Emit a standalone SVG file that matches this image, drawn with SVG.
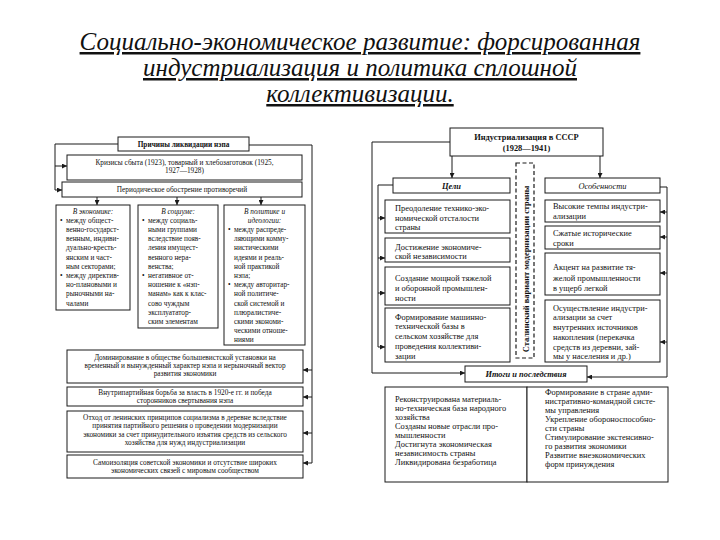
<svg xmlns="http://www.w3.org/2000/svg" width="720" height="540" viewBox="0 0 720 540">
<style>
.title{font-family:"Liberation Serif",serif;font-style:italic;font-size:25px;fill:#111;text-decoration:underline;text-anchor:middle}
.box{fill:#fff;stroke:#1a1a1a;stroke-width:1}
.t{font-family:"Liberation Serif",serif;font-size:7.3px;fill:#111}
.c{text-anchor:middle}
.i{font-style:italic}
.b{font-weight:bold}
.r{font-family:"Liberation Serif",serif;font-size:8.4px;fill:#111}
.ln{fill:none;stroke:#1a1a1a;stroke-width:1}
.dash{fill:none;stroke:#1a1a1a;stroke-width:1.2;stroke-dasharray:4 2.5}
</style>
<defs>
<marker id="ah" markerUnits="userSpaceOnUse" markerWidth="5" markerHeight="5" refX="5" refY="2.5" orient="auto">
<path d="M0,0 L5,2.5 L0,5 Z" fill="#1a1a1a"/>
</marker>
</defs>
<rect width="720" height="540" fill="#fff"/>

<g id="title">
<text class="title" x="360" y="50">Социально-экономическое развитие: форсированная</text>
<text class="title" x="360" y="76">индустриализация и политика сплошной</text>
<text class="title" x="360" y="102">коллективизации.</text>
</g>

<g id="connectors">
<!-- left panel -->
<path class="ln" d="M118,144 H55 V190 H62" marker-end="url(#ah)"/>
<path class="ln" d="M55,166 H67" marker-end="url(#ah)"/>
<path class="ln" d="M249,145 H312 V463"/>
<path class="ln" d="M312,370 H303" marker-end="url(#ah)"/>
<path class="ln" d="M312,397 H303" marker-end="url(#ah)"/>
<path class="ln" d="M312,433 H303" marker-end="url(#ah)"/>
<path class="ln" d="M312,463 H303" marker-end="url(#ah)"/>
<path class="ln" d="M97,197 V205" marker-end="url(#ah)"/>
<path class="ln" d="M177,197 V205" marker-end="url(#ah)"/>
<path class="ln" d="M261,197 V205" marker-end="url(#ah)"/>
<!-- right panel -->
<path class="ln" d="M450,142 H372 V373 H465" marker-end="url(#ah)"/>
<path class="ln" d="M452,156 V178" marker-end="url(#ah)"/>
<path class="ln" d="M600,156 V178" marker-end="url(#ah)"/>
<path class="ln" d="M393,185 H378 V347"/>
<path class="ln" d="M378,218 H385" marker-end="url(#ah)"/>
<path class="ln" d="M378,258 H385" marker-end="url(#ah)"/>
<path class="ln" d="M378,293 H385" marker-end="url(#ah)"/>
<path class="ln" d="M378,347 H385" marker-end="url(#ah)"/>
<path class="ln" d="M660,187 H667 V377 H587" marker-end="url(#ah)"/>
<path class="ln" d="M667,212 H660" marker-end="url(#ah)"/>
<path class="ln" d="M667,237 H660" marker-end="url(#ah)"/>
<path class="ln" d="M667,273 H660" marker-end="url(#ah)"/>
<path class="ln" d="M667,342 H660" marker-end="url(#ah)"/>
</g>

<!-- LEFT PANEL -->
<g id="prichiny">
<rect class="box" x="118" y="137" width="131" height="14"/>
<text class="t b c" x="183.5" y="146.5">Причины ликвидации нэпа</text>
</g>
<g id="krizisy">
<rect class="box" x="67" y="155" width="235" height="25"/>
<text class="t c" x="184.5" y="164.5">Кризисы сбыта (1923), товарный и хлебозаготовок (1925,</text>
<text class="t c" x="184.5" y="173">1927—1928)</text>
</g>
<g id="obostrenie">
<rect class="box" x="62" y="182" width="240" height="15"/>
<text class="t c" x="182" y="192">Периодическое обострение противоречий</text>
</g>
<g id="economy">
<rect class="box" x="56" y="205" width="74" height="105"/>
<text class="t i c" x="93" y="213.5">В экономике:</text>
<text class="t" x="60" y="222.7">•</text>
<text class="t" x="66" y="222.7">между общест-</text>
<text class="t" x="66" y="231.9">венно-государст-</text>
<text class="t" x="66" y="241.1">венным, индиви-</text>
<text class="t" x="66" y="250.3">дуально-кресть-</text>
<text class="t" x="66" y="259.5">янским и част-</text>
<text class="t" x="66" y="268.7">ным секторами;</text>
<text class="t" x="60" y="277.9">•</text>
<text class="t" x="66" y="277.9">между директив-</text>
<text class="t" x="66" y="287.1">но-плановыми и</text>
<text class="t" x="66" y="296.3">рыночными на-</text>
<text class="t" x="66" y="305.5">чалами</text>
</g>
<g id="society">
<rect class="box" x="138" y="205" width="80" height="123"/>
<text class="t i c" x="178" y="213.5">В социуме:</text>
<text class="t" x="142" y="222.7">•</text>
<text class="t" x="148" y="222.7">между социаль-</text>
<text class="t" x="148" y="231.9">ными группами</text>
<text class="t" x="148" y="241.1">вследствие появ-</text>
<text class="t" x="148" y="250.3">ления имущест-</text>
<text class="t" x="148" y="259.5">венного нера-</text>
<text class="t" x="148" y="268.7">венства;</text>
<text class="t" x="142" y="277.9">•</text>
<text class="t" x="148" y="277.9">негативное от-</text>
<text class="t" x="148" y="287.1">ношение к «нэп-</text>
<text class="t" x="148" y="296.3">манам» как к клас-</text>
<text class="t" x="148" y="305.5">сово чуждым</text>
<text class="t" x="148" y="314.7">эксплуататор-</text>
<text class="t" x="148" y="323.9">ским элементам</text>
</g>
<g id="politics">
<rect class="box" x="224" y="205" width="81" height="140"/>
<text class="t i c" x="264.5" y="213.5">В политике и</text>
<text class="t i c" x="264.5" y="222.7">идеологии:</text>
<text class="t" x="228" y="231.9">•</text>
<text class="t" x="234" y="231.9">между распреде-</text>
<text class="t" x="234" y="241.1">ляющими комму-</text>
<text class="t" x="234" y="250.3">нистическими</text>
<text class="t" x="234" y="259.5">идеями и реаль-</text>
<text class="t" x="234" y="268.7">ной практикой</text>
<text class="t" x="234" y="277.9">нэпа;</text>
<text class="t" x="228" y="287.1">•</text>
<text class="t" x="234" y="287.1">между авторитар-</text>
<text class="t" x="234" y="296.3">ной политиче-</text>
<text class="t" x="234" y="305.5">ской системой и</text>
<text class="t" x="234" y="314.7">плюралистиче-</text>
<text class="t" x="234" y="323.9">скими экономи-</text>
<text class="t" x="234" y="333.1">ческими отноше-</text>
<text class="t" x="234" y="342.3">ниями</text>
</g>
<g id="dominirovanie">
<rect class="box" x="67" y="350" width="236" height="33"/>
<text class="t c" x="185" y="359.5">Доминирование в обществе большевистской установки на</text>
<text class="t c" x="185" y="367.8">временный и вынужденный характер нэпа и нерыночный вектор</text>
<text class="t c" x="185" y="376.1">развития экономики</text>
</g>
<g id="borba">
<rect class="box" x="67" y="387" width="236" height="19"/>
<text class="t c" x="185" y="394.5">Внутрипартийная борьба за власть в 1920-е гг. и победа</text>
<text class="t c" x="185" y="402.8">сторонников свертывания нэпа</text>
</g>
<g id="othod">
<rect class="box" x="67" y="411" width="236" height="41"/>
<text class="t c" x="185" y="419.5">Отход от ленинских принципов социализма в деревне вследствие</text>
<text class="t c" x="185" y="428">принятия партийного решения о проведении модернизации</text>
<text class="t c" x="185" y="436.5">экономики за счет принудительного изъятия средств из сельского</text>
<text class="t c" x="185" y="445">хозяйства для нужд индустриализации</text>
</g>
<g id="samoizolyaciya">
<rect class="box" x="67" y="455" width="236" height="23"/>
<text class="t c" x="185" y="464.5">Самоизоляция советской экономики и отсутствие широких</text>
<text class="t c" x="185" y="473">экономических связей с мировым сообществом</text>
</g>

<!-- RIGHT PANEL -->
<g id="industrializaciya">
<rect class="box" x="450" y="128" width="153" height="28"/>
<text class="r b c" x="526.5" y="140">Индустриализация в СССР</text>
<text class="r b c" x="526.5" y="151">(1928—1941)</text>
</g>
<g id="stalinskiy">
<rect class="dash" x="516" y="163" width="18" height="195"/>
<text class="r b c" transform="translate(528.5,269) rotate(-90)" x="0" y="0">Сталинский вариант модернизации страны</text>
</g>
<g id="celi">
<rect class="box" x="393" y="178" width="117" height="15"/>
<text class="r b i c" x="451.5" y="188.5">Цели</text>
</g>
<g id="cel1">
<rect class="box" x="385" y="200" width="125" height="33"/>
<text class="r" x="395" y="211">Преодоление технико-эко-</text>
<text class="r" x="395" y="220.5">номической отсталости</text>
<text class="r" x="395" y="230">страны</text>
</g>
<g id="cel2">
<rect class="box" x="385" y="238" width="125" height="24"/>
<text class="r" x="395" y="249.5">Достижение экономиче-</text>
<text class="r" x="395" y="259">ской независимости</text>
</g>
<g id="cel3">
<rect class="box" x="385" y="267" width="125" height="38"/>
<text class="r" x="395" y="280.5">Создание мощной тяжелой</text>
<text class="r" x="395" y="291">и оборонной промышлен-</text>
<text class="r" x="395" y="301">ности</text>
</g>
<g id="cel4">
<rect class="box" x="385" y="308" width="125" height="54"/>
<text class="r" x="395" y="319.5">Формирование машинно-</text>
<text class="r" x="395" y="329.3">технической базы в</text>
<text class="r" x="395" y="339.1">сельском хозяйстве для</text>
<text class="r" x="395" y="348.9">проведения коллективи-</text>
<text class="r" x="395" y="358.5">зации</text>
</g>
<g id="osobennosti">
<rect class="box" x="545" y="178" width="115" height="15"/>
<text class="r i c" x="602.5" y="188.5">Особенности</text>
</g>
<g id="osob1">
<rect class="box" x="545" y="200" width="115" height="22"/>
<text class="r" x="553" y="209">Высокие темпы индустри-</text>
<text class="r" x="553" y="218.5">ализации</text>
</g>
<g id="osob2">
<rect class="box" x="545" y="226" width="115" height="23"/>
<text class="r" x="553" y="236">Сжатые исторические</text>
<text class="r" x="553" y="245.5">сроки</text>
</g>
<g id="osob3">
<rect class="box" x="545" y="253" width="115" height="42"/>
<text class="r" x="553" y="269.5">Акцент на развитие тя-</text>
<text class="r" x="553" y="280.5">желой промышленности</text>
<text class="r" x="553" y="290.5">в ущерб легкой</text>
</g>
<g id="osob4">
<rect class="box" x="545" y="300" width="115" height="62"/>
<text class="r" x="553" y="310.5">Осуществление индустри-</text>
<text class="r" x="553" y="320.3">ализации за счет</text>
<text class="r" x="553" y="330.1">внутренних источников</text>
<text class="r" x="553" y="339.9">накопления (перекачка</text>
<text class="r" x="553" y="349.7">средств из деревни, зай-</text>
<text class="r" x="553" y="359">мы у населения и др.)</text>
</g>
<g id="itogi">
<rect class="box" x="465" y="366" width="122" height="16"/>
<text class="r b i c" x="526" y="377">Итоги и последствия</text>
</g>
<g id="itogi-left">
<rect class="box" x="385" y="387" width="142" height="95"/>
<text class="r" x="395" y="402">Реконструирована материаль-</text>
<text class="r" x="395" y="411">но-техническая база народного</text>
<text class="r" x="395" y="420">хозяйства</text>
<text class="r" x="395" y="429">Созданы новые отрасли про-</text>
<text class="r" x="395" y="438">мышленности</text>
<text class="r" x="395" y="447">Достигнута экономическая</text>
<text class="r" x="395" y="456">независимость страны</text>
<text class="r" x="395" y="465">Ликвидирована безработица</text>
</g>
<g id="itogi-right">
<rect class="box" x="527" y="387" width="141" height="95"/>
<text class="r" x="545" y="395">Формирование в стране адми-</text>
<text class="r" x="545" y="404">нистративно-командной систе-</text>
<text class="r" x="545" y="413">мы управления</text>
<text class="r" x="545" y="422">Укрепление обороноспособно-</text>
<text class="r" x="545" y="431">сти страны</text>
<text class="r" x="545" y="440">Стимулирование экстенсивно-</text>
<text class="r" x="545" y="449">го развития экономики</text>
<text class="r" x="545" y="458">Развитие внеэкономических</text>
<text class="r" x="545" y="467">форм принуждения</text>
</g>
</svg>
